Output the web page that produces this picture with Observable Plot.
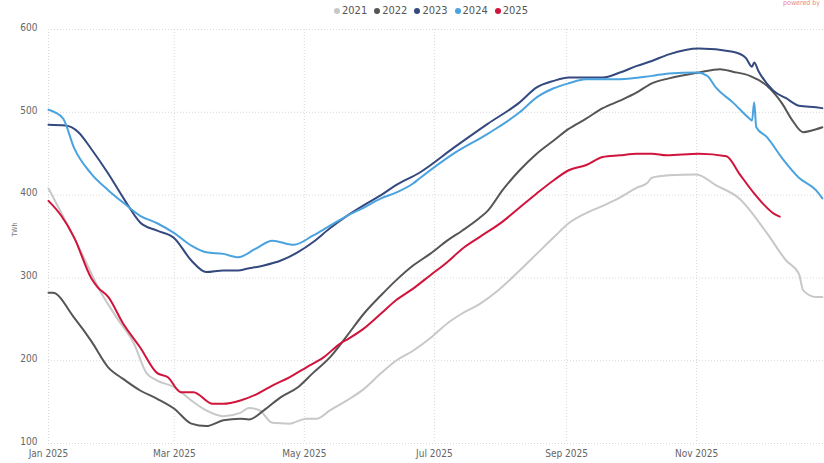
<!DOCTYPE html>
<html>
<head>
<meta charset="utf-8">
<script src="https://cdn.jsdelivr.net/npm/d3@7"></script>
<script src="https://cdn.jsdelivr.net/npm/@observablehq/plot@0.6"></script>
<style>
  html, body { margin: 0; padding: 0; background: #fff; }
  #wrap { position: relative; width: 824px; height: 463px; overflow: hidden; font-family: "Liberation Sans Narrow", "DejaVu Sans Condensed", "Liberation Sans", sans-serif; }
  #legend { position: absolute; top: 4px; left: 334px; display: flex; gap: 7px; font-size: 11px; color: #555; }
  #legend span.item { display: flex; align-items: center; }
  #legend span.dot { width: 6px; height: 6px; border-radius: 50%; margin-right: 2px; display: inline-block; }
  #powered { position: absolute; top: 0px; right: 4px; font-size: 7px; line-height: 7px; color: #e05050; opacity: 0.7; }
  #chart { position: absolute; top: 0; left: 0; }
</style>
</head>
<body>
<div id="wrap">
  <div id="legend"></div>
  <div id="powered">powered by</div>
  <div id="chart"></div>
</div>
<script>
const years = ["2021", "2022", "2023", "2024", "2025"];
const colors = ["#c8c8c8", "#555555", "#34497e", "#4aa3df", "#d0143c"];
const xTicks = ["2025-01-01", "2025-03-01", "2025-05-01", "2025-07-01", "2025-09-01", "2025-11-01"];
const yTicks = [100, 200, 300, 400, 500, 600];

const s2021 = [["01-01",408],["01-16",333],["01-25",285],["02-02",252],["02-10",221],["02-16",185],["02-21",176],["03-01",168],["03-09",152],["03-16",140],["03-24",133],["04-01",137],["04-05",143],["04-10",140],["04-16",125],["04-24",124],["05-02",130],["05-07",130],["05-13",140],["05-21",152],["05-29",166],["06-06",185],["06-13",200],["06-21",212],["06-29",227],["07-07",245],["07-14",257],["07-22",268],["07-31",285],["08-10",309],["08-18",329],["08-26",349],["09-02",366],["09-10",378],["09-18",387],["09-26",397],["10-04",409],["10-09",415],["10-11",421],["10-19",424],["11-01",425],["11-10",412],["11-21",396],["12-04",354],["12-13",321],["12-19",305],["12-21",285],["12-27",277],["12-30",277]];
const s2022 = [["01-01",282],["01-03",282],["01-13",252],["01-21",224],["01-29",192],["02-05",178],["02-13",164],["02-21",154],["03-01",142],["03-09",124],["03-16",121],["03-24",128],["04-01",130],["04-05",129],["04-12",140],["04-20",156],["04-28",168],["05-05",185],["05-13",204],["05-21",230],["05-29",257],["06-06",279],["06-13",297],["06-21",315],["06-29",329],["07-07",345],["07-14",357],["07-22",372],["07-26",381],["08-02",406],["08-10",430],["08-18",450],["08-26",466],["09-02",480],["09-10",492],["09-18",505],["09-26",514],["10-04",524],["10-11",535],["10-19",541],["11-02",548],["11-12",552],["11-18",549],["11-26",544],["12-04",532],["12-11",511],["12-16",490],["12-21",476],["12-25",478],["12-30",482]];
const s2023 = [["01-01",485],["01-09",484],["01-15",476],["01-21",456],["01-29",426],["02-05",397],["02-13",367],["02-21",357],["03-01",348],["03-09",321],["03-16",307],["03-24",309],["03-31",309],["04-04",311],["04-12",315],["04-20",321],["04-28",331],["05-05",343],["05-13",360],["05-21",375],["05-29",388],["06-06",400],["06-13",412],["06-24",427],["07-10",457],["07-26",486],["08-10",512],["08-18",530],["08-26",538],["09-02",542],["09-10",542],["09-18",542],["09-26",548],["10-04",556],["10-11",562],["10-19",570],["11-02",577],["11-18",573],["11-24",566],["11-27",555],["11-28",560],["11-30",550],["12-07",526],["12-13",517],["12-19",508],["12-27",506],["12-30",505]];
const s2024 = [["01-01",503],["01-04",500],["01-08",492],["01-13",457],["01-21",426],["01-29",406],["02-05",391],["02-13",375],["02-21",366],["03-01",354],["03-09",339],["03-16",331],["03-24",329],["03-31",325],["04-08",335],["04-16",345],["04-26",340],["05-05",351],["05-13",363],["05-21",375],["05-29",385],["06-06",396],["06-13",403],["06-21",414],["06-24",420],["07-10",450],["07-26",474],["08-10",500],["08-18",518],["08-26",529],["09-02",535],["09-10",540],["09-26",540],["10-11",544],["10-19",547],["11-01",548],["11-06",544],["11-10",530],["11-18",512],["11-26",492],["11-27",490],["11-28",512],["11-29",482],["12-04",470],["12-11",445],["12-19",421],["12-27",406],["12-30",396]];
const s2025 = [["01-01",393],["01-07",375],["01-13",349],["01-21",300],["01-24",289],["01-29",277],["02-05",245],["02-13",216],["02-21",185],["02-26",180],["03-04",162],["03-10",162],["03-19",148],["03-24",148],["04-01",152],["04-09",160],["04-16",170],["04-24",180],["05-02",192],["05-10",204],["05-18",221],["05-22",227],["05-29",239],["06-06",257],["06-13",273],["06-21",287],["06-29",303],["07-07",319],["07-14",335],["07-22",349],["08-02",368],["08-10",385],["08-18",402],["08-26",418],["09-02",430],["09-10",436],["09-18",446],["09-26",448],["10-04",450],["10-11",450],["10-18",448],["11-02",450],["11-15",447],["11-21",426],["11-28",402],["12-02",390],["12-07",378],["12-10",374]];

const seriesData = [s2021, s2022, s2023, s2024, s2025];
const rows = [];
seriesData.forEach((s, i) => {
  s.forEach(([md, v]) => rows.push({year: years[i], date: new Date(`2025-${md}T00:00:00Z`), value: v}));
});

const font = '"Liberation Sans Narrow", "DejaVu Sans Condensed", "Liberation Sans", sans-serif';

const chart = Plot.plot({
  width: 824,
  height: 463,
  marginLeft: 48,
  marginRight: 0,
  marginTop: 29,
  marginBottom: 20,
  style: {fontFamily: font, fontSize: "10px", color: "#666", background: "transparent"},
  x: {type: "utc", domain: [new Date("2025-01-01T00:00:00Z"), new Date("2025-12-31T00:00:00Z")]},
  y: {domain: [100, 600]},
  color: {domain: years, range: colors},
  marks: [
    Plot.gridY(yTicks, {stroke: "#d8d8d8", strokeOpacity: 1, strokeDasharray: "1,2"}),
    Plot.gridX(xTicks.map(d => new Date(d + "T00:00:00Z")), {stroke: "#d8d8d8", strokeOpacity: 1, strokeDasharray: "1,2"}),
    Plot.axisY(yTicks, {tickSize: 0, tickPadding: 11, label: null, fill: "#666", dy: -2}),
    Plot.axisX(xTicks.map(d => new Date(d + "T00:00:00Z")), {tickSize: 0, tickPadding: 6, label: null, tickFormat: d3.utcFormat("%b %Y"), fill: "#666"}),
    Plot.text(["TWh"], {frameAnchor: "left", rotate: -90, dx: -34, fontSize: 7, fill: "#777"}),
    Plot.line(rows, {x: "date", y: "value", z: "year", stroke: "year", strokeWidth: 2, curve: "monotone-x"})
  ]
});
document.getElementById("chart").appendChild(chart);

const legend = document.getElementById("legend");
years.forEach((y, i) => {
  const item = document.createElement("span");
  item.className = "item";
  const dot = document.createElement("span");
  dot.className = "dot";
  dot.style.background = colors[i];
  item.appendChild(dot);
  item.appendChild(document.createTextNode(y));
  legend.appendChild(item);
});
</script>
</body>
</html>
